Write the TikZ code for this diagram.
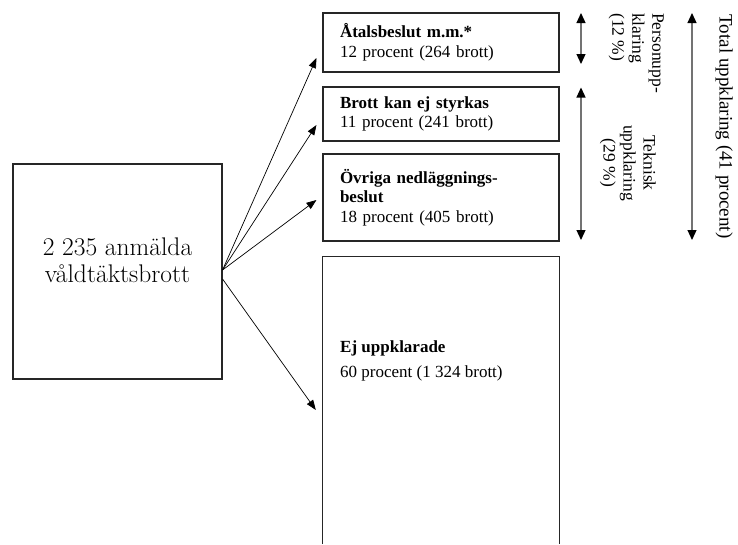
\documentclass[tikz,border=0pt]{standalone}
\usepackage{fontspec}
\newfontfamily\tnr{Liberation Serif}
\usetikzlibrary{arrows.meta}
\begin{document}
\begin{tikzpicture}[x=1pt,y=-1pt,
  frame/.style={draw=black!85, line width=1.1pt},
  outbox/.style={frame, rectangle, minimum width=236pt, inner xsep=17pt, inner ysep=0pt,
    text width=202pt, align=left, font=\tnr\fontsize{17}{19.5}\selectfont},
  arr/.style={-{Triangle[length=10pt,width=7.5pt]}, line width=0.7pt},
  span/.style={{Triangle[length=10pt,width=9pt,color=black]}-{Triangle[length=10pt,width=9pt,color=black]},
    draw=black!55, line width=1.2pt},
  vtext/.style={rotate=-90, inner sep=0pt, font=\tnr\fontsize{17.5}{20}\selectfont}
]
\useasboundingbox (0,0) rectangle (738,544);

% source box
\node[frame, minimum width=209pt, minimum height=215pt, inner sep=0pt] (src) at (117.5,271.5) {};
\node[align=center, font=\fontsize{25.5}{27}\selectfont, inner sep=0pt] (srct) at (117.5,260.5)
  {2 235 anmälda\\våldtäktsbrott};

% outcome boxes
\node[outbox, minimum height=59pt] (b1) at (441,42.5)
  {\textbf{Åtalsbeslut m.m.*}\\12 procent (264 brott)};
\node[outbox, minimum height=54pt] (b2) at (441,114)
  {\textbf{Brott kan ej styrkas}\\11 procent (241 brott)};
\node[outbox, minimum height=87pt] (b3) at (441,197.5)
  {\textbf{Övriga nedläggnings-}\\\textbf{beslut}\\18 procent (405 brott)};
\node[minimum width=236pt, minimum height=287pt, inner sep=0pt] (b4) at (441,400.5) {};
\draw[frame] (b4.south west) -- (b4.north west) -- (b4.north east) -- (b4.south east);
\node[align=left, anchor=west, inner sep=0pt, font=\tnr\fontsize{17}{25}\selectfont] (t4) at (340,361.3)
  {\textbf{Ej uppklarade}\\60 procent (1 324 brott)};

% connectors
\coordinate (s1) at ([yshift=1.5pt]src.east);
\coordinate (s2) at ([yshift=-7.5pt]src.east);
\draw[arr] (s1) -- ([shift={(-6pt,-15.5pt)}]b1.west);
\draw[arr] (s1) -- ([shift={(-6pt,-11pt)}]b2.west);
\draw[arr] (s1) -- ([shift={(-6pt,-2.5pt)}]b3.west);
\draw[arr] (s2) -- ([shift={(-7pt,-9.5pt)}]b4.west);

% spans
\coordinate (pa) at (581,13);
\coordinate (pb) at (581,64);
\coordinate (ta) at (581,87.5);
\coordinate (tb) at (581,240);
\coordinate (ua) at (692,13);
\coordinate (ub) at (692,240);
\draw[span] (pa) -- (pb);
\draw[span] (ta) -- (tb);
\draw[span] (ua) -- (ub);

\node[vtext, anchor=north west, align=left] (pers) at (664,13) {Personupp-\\klaring\\(12 \%)};
\node[vtext, anchor=north, align=center] (tek) at (656,163) {Teknisk\\uppklaring\\(29 \%)};
\node[rotate=-90, inner sep=0pt, anchor=base, font=\tnr\fontsize{19}{22}\selectfont] (tot) at (719.5,126.5)
  {Total uppklaring (41 procent)};
\end{tikzpicture}
\end{document}
